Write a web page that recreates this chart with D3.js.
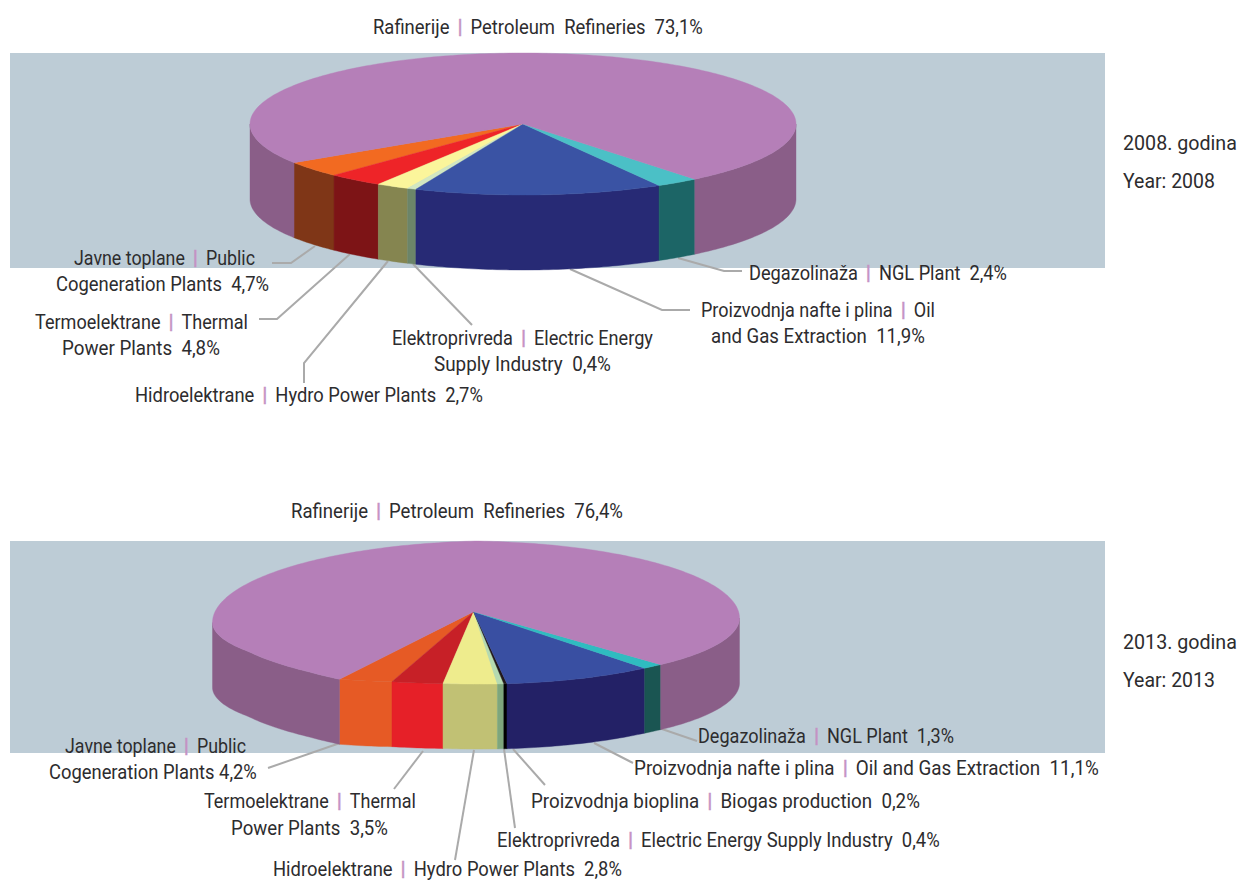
<!DOCTYPE html>
<html><head><meta charset="utf-8">
<style>html,body{margin:0;padding:0;background:#fff}svg{display:block}
text{font-family:Roboto,"Liberation Sans",sans-serif;font-size:21px;fill:#2d2c2e;white-space:pre}</style>
<script src="https://cdn.jsdelivr.net/npm/d3@7/dist/d3.min.js"></script>
</head><body>
<script>
// DATA
const categories2008 = ["Javne toplane","Termoelektrane","Hidroelektrane","Elektroprivreda","Proizvodnja nafte i plina","Degazolinaža","Rafinerije"];
const values2008 = [4.7,4.8,2.7,0.4,11.9,2.4,73.1];
const categories2013 = ["Javne toplane","Termoelektrane","Hidroelektrane","Elektroprivreda","Proizvodnja bioplina","Proizvodnja nafte i plina","Degazolinaža","Rafinerije"];
const values2013 = [4.2,3.5,2.8,0.4,0.2,11.1,1.3,76.4];

// STYLE
const top2008  = ["#f26a21","#ee2428","#fbf59b","#d2e7c1","#3a53a4","#4bc0c6","#b57fb8"];
const wall2008 = ["#7f3617","#7d1416","#858550","#6c8569","#272a75","#1c6566","#8a5e88"];
const top2013  = ["#e65a25","#c72027","#eeec8d","#b5dab0","#231a1a","#394fa2","#2fbcc0","#b57fb8"];
const wall2013 = ["#e65a25","#e62028","#c1c174","#7ea67c","#000000","#232166","#1a5552","#8a5e88"];

// LAYOUT: each pie's projection. warp = cumulative value -> drawn angle (the artwork's perspective
// stretches the front), lift = drawn angle -> outline offset.
const pies = [
 {values:values2008,names:categories2008,tops:top2008,walls:wall2008,band:[53,268],cx:523,cy:124,rx:273,ry:71,depth:75,apex:[523,124],
  warpIn:[0,4.7,9.5,12.2,12.6,24.5,26.9,100],warpOut:[-57,-43.8,-32,-25,-23.1,29.9,39,303],liftIn:[-180,180],liftOut:[0,0]},
 {values:values2013,names:categories2013,tops:top2013,walls:wall2013,band:[541,753],cx:476,cy:612.5,rx:263.5,ry:71.5,depth:65,apex:[473.6,611.7],
  warpIn:[0,4.2,7.7,10.5,11.1,22.2,23.5,99.9],warpOut:[-31.2,-18.6,-7.2,4.66,6.75,39.8,44.5,328.8],
  liftIn:[-180,-90,-60,-40,-31.2,-18.6,-7,40,90,180],liftOut:[0,10,3,4,5.6,1.4,0,0.7,5.5,0]}
];

const labels = [
 ["Rafinerije|Petroleum  Refineries  73,1%",373,703,34],
 ["2008. godina",1123,1237,150],["Year: 2008",1123,1215,188],
 ["Javne toplane|Public",74,255,265],["Cogeneration Plants  4,7%",56,269,291],
 ["Termoelektrane|Thermal",35,248,329],["Power Plants  4,8%",62,220,355],
 ["Hidroelektrane|Hydro Power Plants  2,7%",135,483,402],
 ["Elektroprivreda|Electric Energy",392,653,345],["Supply Industry  0,4%",434,611,371],
 ["Proizvodnja nafte i plina|Oil",701,935,317],["and Gas Extraction  11,9%",711,925,343],
 ["Degazolinaža|NGL Plant  2,4%",749,1007,280],
 ["Rafinerije|Petroleum  Refineries  76,4%",291,623,518],
 ["2013. godina",1123,1237,649],["Year: 2013",1123,1215,687],
 ["Javne toplane|Public",65,246,753],["Cogeneration Plants 4,2%",49,257,779],
 ["Termoelektrane|Thermal",204,416,808],["Power Plants  3,5%",231,388,835],
 ["Hidroelektrane|Hydro Power Plants  2,8%",273,622,876],
 ["Degazolinaža|NGL Plant  1,3%",698,954,743],
 ["Proizvodnja nafte i plina|Oil and Gas Extraction  11,1%",634,1099,775],
 ["Proizvodnja bioplina|Biogas production  0,2%",531,920,808],
 ["Elektroprivreda|Electric Energy Supply Industry  0,4%",497,940,847]
];
const leaders = [
 [[272,263],[291,263],[315,246]],[[259,319],[277,319],[350,254]],[[304,383],[304,363],[388,261]],
 [[413,264],[472,325]],[[570,269],[662,310],[690,310]],[[678,258],[724,271],[742,271]],
 [[340,743],[268,768]],[[423,751],[394,789]],[[474,750],[455,860]],[[504,749],[515,828]],
 [[513,749],[545,785]],[[594,743],[633,763]],[[659,728],[697,741]]
];

const svg = d3.select("body").append("svg").attr("width",1240).attr("height",881);
const rad = d => d*Math.PI/180;
const line = d3.line();

pies.forEach(p=>{
  svg.append("rect").attr("x",10).attr("y",p.band[0]).attr("width",1095).attr("height",p.band[1]-p.band[0]).attr("fill","#bdccd6");
});
svg.append("g").attr("fill","none").attr("stroke","#aaaaaa").attr("stroke-width",2)
  .selectAll("path").data(leaders).join("path").attr("d",d=>line(d));

pies.forEach(p=>{
  const total = d3.sum(p.values);
  const x = d3.scaleLinear().domain([-1,1]).range([p.cx-p.rx,p.cx+p.rx]);
  const y = d3.scaleLinear().domain([-1,1]).range([p.cy-p.ry,p.cy+p.ry]);
  const warp = d3.scaleLinear().domain(p.warpIn).range(p.warpOut);
  const lift = d3.scaleLinear().domain(p.liftIn).range(p.liftOut);
  const norm = a => ((a+180)%360+360)%360-180;
  const pt = (a,dy=0) => [x(Math.sin(rad(a))), y(Math.cos(rad(a))) + lift(norm(a)) + dy];
  const arcPts = (a0,a1,dy=0) => {
    const n = Math.max(2,Math.ceil(Math.abs(a1-a0)));
    return d3.range(n+1).map(i=>pt(a0+(a1-a0)*i/n,dy));
  };
  const arcs = d3.pie().sort(null).value(d=>d)(p.values).map((a,i)=>({
    i, a0:warp(a.startAngle/(2*Math.PI)*total), a1:warp(a.endAngle/(2*Math.PI)*total)
  }));
  const g = svg.append("g");
  arcs.forEach(s=>{
    [-360,0].forEach(k=>{
      const a0=Math.max(s.a0+k,-90), a1=Math.min(s.a1+k,90);
      if(a1<=a0) return;
      const pts = arcPts(a0,a1).concat(arcPts(a1,a0,p.depth));
      g.append("path").attr("d",line(pts)+"Z").attr("fill",p.walls[s.i]).attr("stroke",p.walls[s.i]).attr("stroke-width",0.4);
    });
  });
  arcs.forEach(s=>{
    const pts = [p.apex].concat(arcPts(s.a0,s.a1));
    g.append("path").attr("d",line(pts)+"Z").attr("fill",p.tops[s.i]).attr("stroke",p.tops[s.i]).attr("stroke-width",0.4);
  });
});

// Labels: the two language parts and the coloured bar are separate texts, squeezed to fit between the label's ends.
const pipeGap = 10.5;
const tg = svg.append("g");
labels.forEach(([str,x0,x1,base])=>{
  const parts = str.split("|");
  const nodes = parts.map(s=>tg.append("text").text(s));
  const widths = nodes.map(n=>n.node().getComputedTextLength());
  const gaps = (parts.length-1)*2*pipeGap;
  const k = (x1-x0-gaps)/d3.sum(widths);
  let cur = x0;
  nodes.forEach((n,i)=>{
    n.attr("transform",`translate(${cur},${base}) scale(${k},1)`);
    cur += widths[i]*k;
    if(i<nodes.length-1){
      tg.append("text").attr("x",cur+pipeGap).attr("y",base).attr("text-anchor","middle")
        .style("font-size","21px").style("fill","#c592c4").style("stroke","#c592c4").style("stroke-width",0.5).text("|");
      cur += 2*pipeGap;
    }
  });
});
</script>
</body></html>
